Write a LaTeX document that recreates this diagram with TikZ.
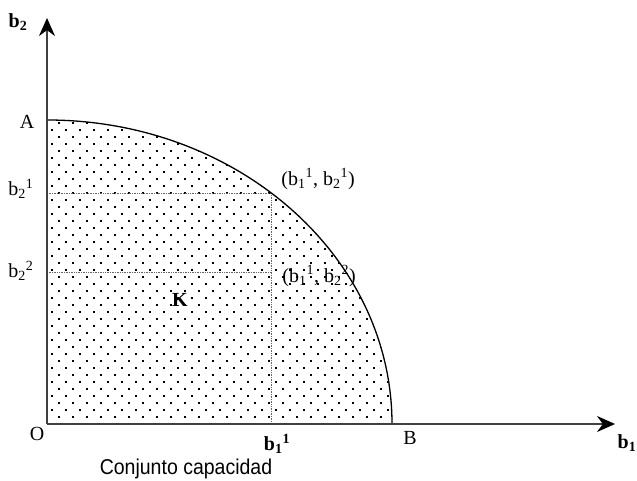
\documentclass[tikz,border=0pt]{standalone}
\usepackage{fontspec}
\setmainfont{Liberation Serif}
\setsansfont{Liberation Sans}
\usetikzlibrary{arrows.meta}
\tikzset{
  >={Stealth[length=18pt,width=16pt,color=black]},
  ax/.style={->,line width=1.8pt,draw=black!75},
  lb/.style={inner sep=0pt,font=\fontsize{20}{22}\selectfont},
  blb/.style={inner sep=0pt,font=\fontsize{20}{22}\selectfont\bfseries},
  dl/.style={densely dotted,line width=0.7pt,draw=black!60},
}

\begin{document}
\begin{tikzpicture}[x=1pt,y=1pt]
\useasboundingbox (-47,-57) rectangle (590,424);
\coordinate (O) at (0,0); \coordinate (A) at (0,304); \coordinate (B) at (345,0);
\coordinate (P) at (224,231); \coordinate (Q) at (224,152); \coordinate (Px) at (224,0);
\coordinate (Py) at (0,231); \coordinate (Qy) at (0,152);
\coordinate (yt) at (0,406); \coordinate (xt) at (568,0);
% dotted region K
\begin{scope}
\clip (O) -- (A) arc[start angle=90,end angle=0,x radius=345,y radius=304] -- cycle;
\foreach \r in {0,...,21} \foreach \c in {0,...,24} {
  \fill (11+14*\c,300-14*\r) rectangle +(1.8,1.8); \fill (4+14*\c,293-14*\r) rectangle +(1.8,1.8);}
\end{scope}
\draw[dl] (Py) -- (P) -- (Px); \draw[dl] (Qy) -- (Q);
\draw[line width=1.3pt] (A) arc[start angle=90,end angle=0,x radius=345,y radius=304];
\draw[ax] (O) -- (yt); \draw[ax] (O) -- (xt);
\node[blb] (b2) at (-29,402) {b\textsubscript{2}}; \node[blb] (b1) at (580,-19) {b\textsubscript{1}};
\node[lb] (lA) at (-20,302) {A}; \node[lb] (lB) at (363,-14) {B}; \node[lb] (lO) at (-10,-10) {O};
\node[lb] (lb21) at (-26,235) {b\textsubscript{2}\textsuperscript{1}};
\node[lb] (lb22) at (-26,153) {b\textsubscript{2}\textsuperscript{2}};
\node[blb] (lb11) at (230,-20) {b\textsubscript{1}\textsuperscript{1}};
\node[lb] (lP) at (271,245) {(b\textsubscript{1}\textsuperscript{1}, b\textsubscript{2}\textsuperscript{1})};
\node[lb] (lQ) at (272,148) {(b\textsubscript{1}\textsuperscript{1}, b\textsubscript{2}\textsuperscript{2})};
\node[blb] (K) at (133,124) {K};
\node[lb,font=\fontsize{19.5}{22}\sffamily,yscale=1.1,transform shape] (cap) at (139,-45) {Conjunto capacidad};
\end{tikzpicture}
\end{document}
